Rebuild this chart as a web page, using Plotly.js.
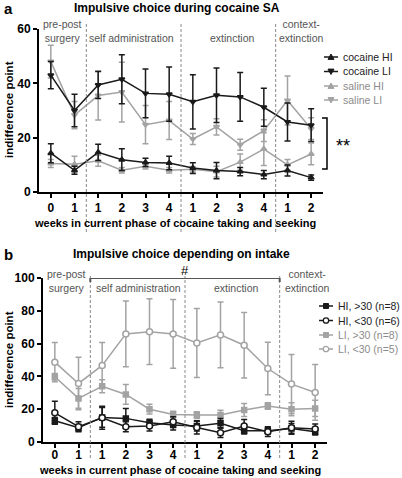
<!DOCTYPE html>
<html>
<head>
<meta charset="utf-8">
<script src="https://cdn.plot.ly/plotly-3.0.1.min.js"></script>
<style>html,body{margin:0;padding:0;background:#fff;}#chart{width:402px;height:478px;}</style>
</head>
<body>
<div id="chart"></div>
<script>
// ---- data ----
const weekLabels = ["0","1","1","2","3","4","1","2","3","4","1","2"];
const phaseLabelsA = ["pre-post<br>surgery","self administration","extinction","context-<br>extinction"];

// panel a
const cocaineHI     = [14.3, 8.0, 14.6, 11.9, 10.9, 10.7, 8.8, 7.9, 7.5, 6.4, 7.9, 5.3];
const cocaineHIErr  = [3.5, 1.5, 3, 4, 1.5, 2.5, 2, 3, 1.5, 1.5, 2, 1];
const cocaineLI     = [43, 30, 39.4, 41.5, 36.3, 36, 33.2, 35.6, 35, 31.2, 25.8, 24.6];
const cocaineLIErr  = [5, 6, 5, 9, 9, 10, 10, 10, 9, 7, 7, 6];
const salineHI      = [10.5, 10.2, 11.5, 8, 9.5, 8, 8.4, 7.5, 11, 15.8, 10, 14];
const salineHIErr   = [1.5, 3, 2, 1, 1, 1, 1, 2, 3, 6, 2, 4];
const salineLI      = [48, 28.3, 35.5, 36.8, 24.8, 26.3, 19.5, 24, 17.4, 22.6, 33.7, 23.3];
const salineLIErr   = [6, 5, 9, 11, 7, 7, 2, 3, 2, 4, 9, 4];

// panel b
const hiGt30     = [13, 8.7, 15, 14.4, 11.8, 10.3, 9.7, 11.4, 6.9, 6.9, 8.3, 6.3];
const hiGt30Err  = [2, 2, 6, 6, 2, 3, 3, 3, 2, 2, 3, 2];
const hiLt30     = [17.8, 9.3, 14.8, 9.3, 9.7, 12.4, 8.9, 5.7, 9.7, 6.3, 8.7, 7.9];
const hiLt30Err  = [7, 3, 7, 3, 3, 3, 4, 3, 4, 3, 4, 3];
const liGt30     = [39.8, 26.6, 34, 29, 20, 16.8, 16.4, 16.4, 19.5, 21.9, 20, 20.5];
const liGt30Err  = [2, 6, 4, 6, 3, 2, 2, 3, 4, 2, 4, 5];
const liLt30     = [48.7, 35.7, 46.7, 65.9, 67.3, 65.9, 60.4, 65.3, 59, 44.8, 35.3, 30.2];
const liLt30Err  = [12, 16, 14, 20, 20, 21, 21, 20, 20, 16, 18, 17];

const namesA = ["cocaine HI","cocaine LI","saline HI","saline LI"];
const namesB = ["HI, >30 (n=8)","HI, <30 (n=6)","LI, >30 (n=8)","LI, <30 (n=5)"];

// ---- helpers ----
const W = 402, H = 478;
const X = p => p / W;
const Y = p => 1 - p / H;
const FONT = "Liberation Sans, Arial, Helvetica, sans-serif";
const BLACK = "#1a1a1a", GREY = "#a3a3a3", PHASE = "#555555";
const xIdx = weekLabels.map((_, i) => i);

function series(y, err, name, color, symbol, fill, xa, ya, size) {
  return {
    type: "scatter", mode: "lines+markers", name: name,
    x: xIdx, y: y, xaxis: xa, yaxis: ya, cliponaxis: false, showlegend: false,
    line: {color: color, width: 1.5},
    marker: {symbol: symbol, size: size, color: fill, line: {color: color, width: 1.5}},
    error_y: {type: "data", array: err, visible: true, color: color, thickness: 1.5, width: 3}
  };
}

const traces = [
  series(salineHI, salineHIErr, namesA[2], GREY, "triangle-up", GREY, "x", "y", 5),
  series(salineLI, salineLIErr, namesA[3], GREY, "triangle-down", GREY, "x", "y", 5),
  series(cocaineHI, cocaineHIErr, namesA[0], BLACK, "triangle-up", BLACK, "x", "y", 5),
  series(cocaineLI, cocaineLIErr, namesA[1], BLACK, "triangle-down", BLACK, "x", "y", 5),
  series(liGt30, liGt30Err, namesB[2], GREY, "square", GREY, "x2", "y2", 5),
  series(liLt30, liLt30Err, namesB[3], GREY, "circle", "#ffffff", "x2", "y2", 6),
  series(hiGt30, hiGt30Err, namesB[0], BLACK, "square", BLACK, "x2", "y2", 5),
  series(hiLt30, hiLt30Err, namesB[1], BLACK, "circle", "#ffffff", "x2", "y2", 6)
];

function xAxis(domain, anchor, standoff) {
  return {
    domain: domain, anchor: anchor, range: [-0.5, 11.5],
    tickmode: "array", tickvals: xIdx, ticktext: weekLabels,
    showline: true, linecolor: "#000", linewidth: 2,
    ticks: "outside", ticklen: 4, tickwidth: 2, tickcolor: "#000",
    ticklabelstandoff: standoff,
    tickfont: {family: FONT, size: 12, color: "#000", weight: "bold"},
    showgrid: false, zeroline: false, fixedrange: true
  };
}
function yAxis(domain, anchor, range, tickvals) {
  return {
    domain: domain, anchor: anchor, range: range,
    tickmode: "array", tickvals: tickvals,
    showline: true, linecolor: "#000", linewidth: 2,
    ticks: "outside", ticklen: 4, tickwidth: 2, tickcolor: "#000",
    tickfont: {family: FONT, size: 12, color: "#000", weight: "bold"},
    showgrid: false, zeroline: false, fixedrange: true
  };
}

const shapes = [];
const annotations = [];

function ann(text, x, y, size, color, opts) {
  annotations.push(Object.assign({
    text: text, x: X(x), y: Y(y), xref: "paper", yref: "paper",
    showarrow: false, xanchor: "center", yanchor: "middle",
    font: {family: FONT, size: size, color: color}
  }, opts || {}));
}

// panel letters and titles
ann("<b>a</b>", 8, 8, 15, "#000");
ann("<b>Impulsive choice during cocaine SA</b>", 177, 8, 12, "#000");
ann("<b>b</b>", 8, 254, 15, "#000");
ann("<b>Impulsive choice depending on intake</b>", 181, 254, 12, "#000");

// axis titles
ann("<b>indifference point</b>", 9, 110, 11.5, "#000", {textangle: -90});
ann("<b>indifference point</b>", 9, 360, 11.5, "#000", {textangle: -90});
ann("<b>weeks in current phase of cocaine taking and seeking</b>", 175, 223, 11, "#000");
ann("<b>weeks in current phase of cocaine taking and seeking</b>", 180, 470, 11, "#000");

// phase labels a
ann(phaseLabelsA[0], 62, 31, 10.5, PHASE);
ann(phaseLabelsA[1], 131, 38, 10.5, PHASE);
ann(phaseLabelsA[2], 232, 38, 10.5, PHASE);
ann(phaseLabelsA[3], 301, 31, 10.5, PHASE);
// phase labels b
ann(phaseLabelsA[0], 66, 281, 10.5, PHASE);
ann(phaseLabelsA[1], 138, 288, 10.5, PHASE);
ann(phaseLabelsA[2], 236, 288, 10.5, PHASE);
ann(phaseLabelsA[3], 307, 281, 10.5, PHASE);

// dashed phase separators
[1.5, 5.5, 9.5].forEach(v => {
  shapes.push({type: "line", xref: "x", yref: "paper", x0: v, x1: v, y0: Y(232), y1: Y(24),
    line: {color: "#8a8a8a", width: 1, dash: "3px,2px"}});
  shapes.push({type: "line", xref: "x2", yref: "paper", x0: v, x1: v, y0: Y(458), y1: Y(276),
    line: {color: "#8a8a8a", width: 1, dash: "3px,2px"}});
});

// significance bracket a
shapes.push({type: "path", xref: "paper", yref: "paper",
  path: `M ${X(322)} ${Y(118)} L ${X(327)} ${Y(118)} L ${X(327)} ${Y(169)} L ${X(322)} ${Y(169)}`,
  line: {color: "#000", width: 1.5}});
ann("**", 343, 146, 18, "#000");

// # bar b
shapes.push({type: "path", xref: "x2", yref: "y2",
  path: "M 1.5 97.5 L 1.5 100 L 9.5 100 L 9.5 97.5",
  line: {color: "#555", width: 2}});
annotations.push({text: "#", x: 5.5, y: 100, xref: "x2", yref: "y2", showarrow: false,
  xanchor: "center", yanchor: "bottom", yshift: -2, font: {family: FONT, size: 13, color: "#000"}});

// custom legends
function legendGlyph(cx, cy, color, symbol, fill) {
  shapes.push({type: "line", xref: "paper", yref: "paper", x0: X(cx - 7), x1: X(cx + 7), y0: Y(cy), y1: Y(cy),
    line: {color: color, width: 1.5}});
  const s = 3;
  let path;
  if (symbol === "triangle-up") path = `M ${X(cx - s)} ${Y(cy + s * 0.8)} L ${X(cx + s)} ${Y(cy + s * 0.8)} L ${X(cx)} ${Y(cy - s)} Z`;
  else if (symbol === "triangle-down") path = `M ${X(cx - s)} ${Y(cy - s * 0.8)} L ${X(cx + s)} ${Y(cy - s * 0.8)} L ${X(cx)} ${Y(cy + s)} Z`;
  if (path) {
    shapes.push({type: "path", xref: "paper", yref: "paper", path: path, fillcolor: fill, line: {color: color, width: 1}});
  } else if (symbol === "square") {
    shapes.push({type: "rect", xref: "paper", yref: "paper", x0: X(cx - 2.5), x1: X(cx + 2.5), y0: Y(cy + 2.5), y1: Y(cy - 2.5),
      fillcolor: fill, line: {color: color, width: 1}});
  } else {
    shapes.push({type: "circle", xref: "paper", yref: "paper", x0: X(cx - 2.7), x1: X(cx + 2.7), y0: Y(cy + 2.7), y1: Y(cy - 2.7),
      fillcolor: fill, line: {color: color, width: 1.3}});
  }
}
const legA = [[BLACK, "triangle-up", BLACK], [BLACK, "triangle-down", BLACK], [GREY, "triangle-up", GREY], [GREY, "triangle-down", GREY]];
const legAy = [57, 71.5, 86, 100];
namesA.forEach((n, i) => {
  legendGlyph(331, legAy[i], legA[i][0], legA[i][1], legA[i][2]);
  ann(n, 341, legAy[i], 10.5, i < 2 ? "#222" : "#8c8c8c", {xanchor: "left"});
});
const legB = [[BLACK, "square", BLACK], [BLACK, "circle", "#fff"], [GREY, "square", GREY], [GREY, "circle", "#fff"]];
const legBy = [306, 320.5, 335, 349];
namesB.forEach((n, i) => {
  legendGlyph(326, legBy[i], legB[i][0], legB[i][1], legB[i][2]);
  ann(n, 336, legBy[i], 10.5, i < 2 ? "#222" : "#8c8c8c", {xanchor: "left"});
});

const layout = {
  width: W, height: H,
  margin: {l: 0, r: 0, t: 0, b: 0, pad: 0},
  paper_bgcolor: "#fff", plot_bgcolor: "rgba(0,0,0,0)",
  showlegend: false,
  font: {family: FONT, color: "#000"},
  xaxis: xAxis([X(39), X(323)], "y", 0),
  yaxis: yAxis([Y(192), Y(29)], "x", [0, 60], [0, 20, 40, 60]),
  xaxis2: xAxis([X(43), X(327)], "y2", -3),
  yaxis2: yAxis([Y(442), Y(278)], "x2", [0, 100], [0, 20, 40, 60, 80, 100]),
  shapes: shapes,
  annotations: annotations
};

Plotly.newPlot("chart", traces, layout, {staticPlot: true, displayModeBar: false});
</script>
</body>
</html>
